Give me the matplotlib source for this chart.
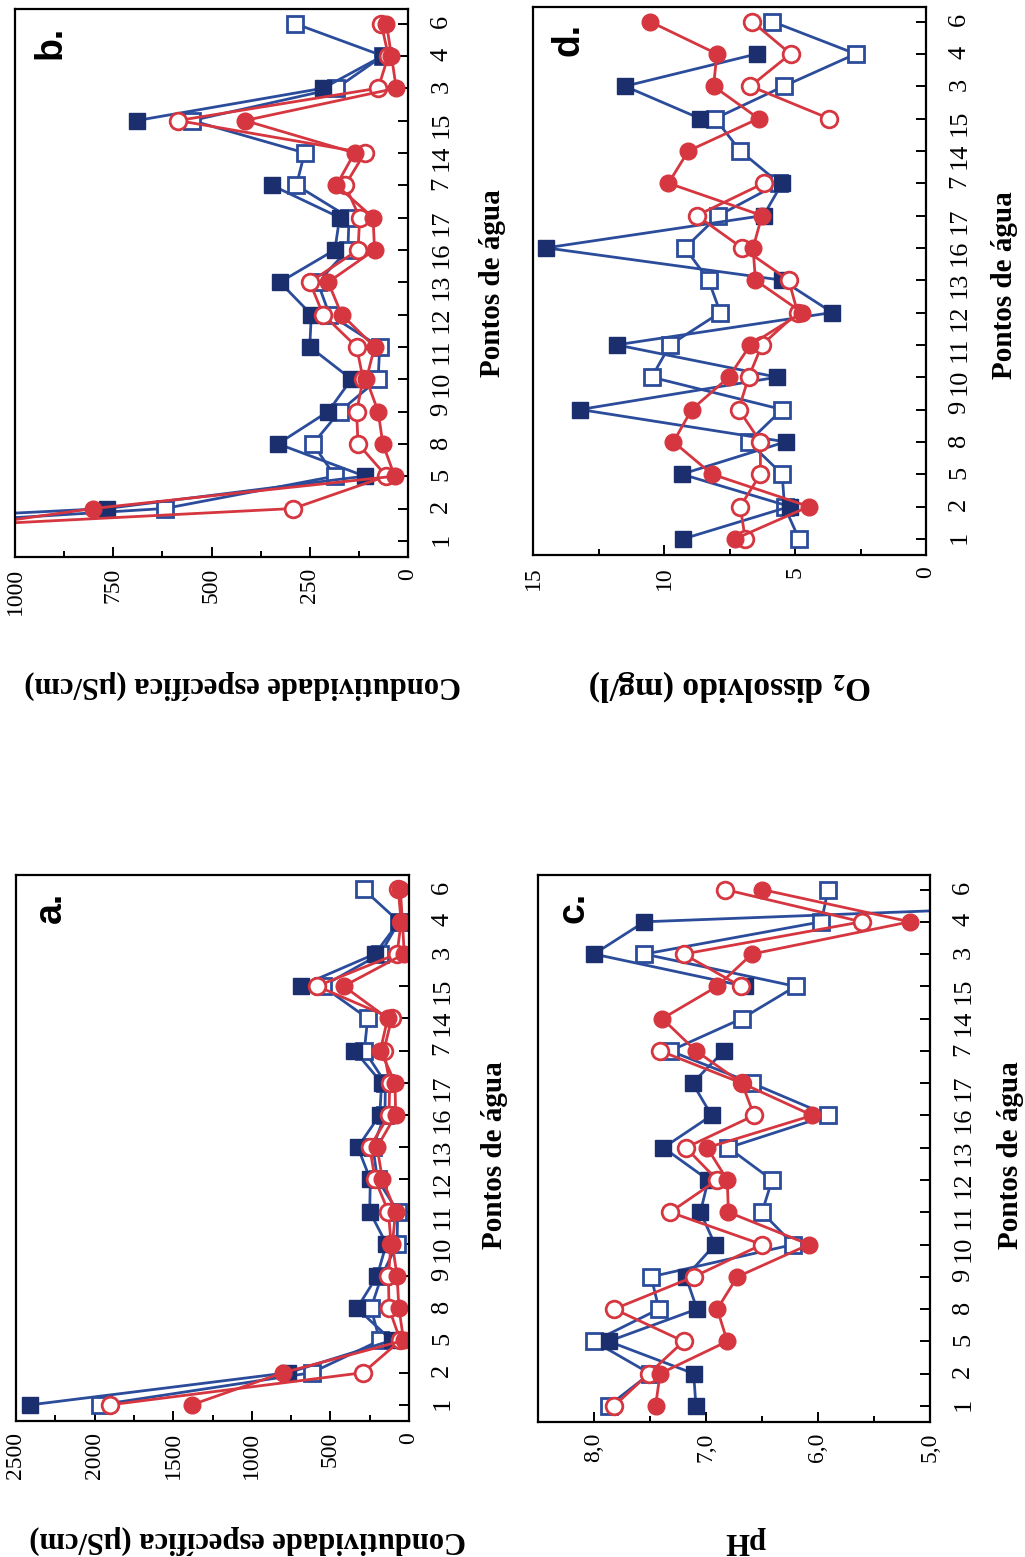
import numpy as np
import matplotlib
matplotlib.use("Agg")
import matplotlib.pyplot as plt

plt.rcParams['font.family'] = ['Liberation Serif', 'DejaVu Serif']
plt.rcParams['mathtext.fontset'] = 'stix'

nan = np.nan

# Sampling points (order along the category axis)
pontos = ['1', '2', '5', '8', '9', '10', '11', '12', '13', '16', '17',
          '7', '14', '15', '3', '4', '6']

# Specific conductivity (uS/cm) - four campaigns
cond_blue_filled = [2410, 767, 110, 331, 203, 144, 250, 246, 326, 186, 174,
                    347, nan, 690, 216, 64, nan]
cond_blue_open = [1968, 619, 186, 242, 174, 76, 72, 200, 230, 153, 150,
                  284, 263, 550, 182, 64, 288]
cond_red_open = [1904, 292, 55, 127, 131, 114, 131, 216, 250, 127, 123,
                 160, 110, 585, 76, 50, 68]
cond_red_filled = [1383, 801, 34, 64, 76, 106, 85, 169, 203, 85, 89,
                   182, 136, 415, 30, 42, 55]

# pH
ph_blue_filled = [7.09, 7.11, 7.87, 7.08, 7.18, 6.92, 7.05, 6.98, 7.38, 6.95,
                  7.12, 6.84, nan, 6.65, 8.00, 7.55, 0.0]
ph_blue_open = [7.87, 7.50, 8.00, 7.42, 7.49, 6.22, 6.50, 6.41, 6.80, 5.91,
                6.59, 7.32, 6.68, 6.20, 7.55, 5.97, 5.91]
ph_red_open = [7.82, 7.51, 7.20, 7.82, 7.11, 6.50, 7.32, 6.90, 7.18, 6.57,
               6.68, 7.41, nan, 6.69, 7.20, 5.61, 6.83]
ph_red_filled = [7.45, 7.41, 6.81, 6.90, 6.72, 6.08, 6.80, 6.81, 6.99, 6.05,
                 6.68, 7.09, 7.39, 6.90, 6.59, 5.18, 6.50]

# Dissolved oxygen (mg/l)
o2_blue_filled = [9.26, 5.20, 9.32, 5.36, 13.2, 5.68, 11.81, 3.58, 5.49, 14.5,
                  6.20, 5.49, nan, 8.62, 11.49, 6.45, nan]
o2_blue_open = [4.85, 5.40, 5.49, 6.77, 5.49, 10.47, 9.77, 7.85, 8.30, 9.20,
                7.92, 5.60, 7.09, 8.05, 5.43, 2.68, 5.87]
o2_red_open = [6.90, 7.09, 6.32, 6.32, 7.15, 6.77, 6.26, 4.90, 5.24, 7.02,
               8.75, 6.19, nan, 3.70, 6.70, 5.17, 6.64]
o2_red_filled = [7.28, 4.47, 8.17, 9.64, 8.94, 7.53, 6.70, 4.73, 6.51, 6.60,
                 6.26, 9.83, 9.07, 6.39, 8.11, 7.98, 10.54]

# Value-axis ticks
cond_a_major = [0, 500, 1000, 1500, 2000, 2500]
cond_a_labels = ['0', '500', '1000', '1500', '2000', '2500']
cond_b_major = [0, 250, 500, 750, 1000]
cond_b_labels = ['0', '250', '500', '750', '1000']
ph_major = [5.0, 6.0, 7.0, 8.0]
ph_labels = ['5,0', '6,0', '7,0', '8,0']
o2_major = [0, 5, 10, 15]
o2_labels = ['0', '5', '10', '15']

NAVY = '#1b2f6e'
BLUE = '#2b4c9b'
RED = '#d5363f'

styles = [
    dict(color=BLUE, marker='s', mfc='white', mec=BLUE, mew=2.0, ms=12, lw=2.0),
    dict(color=BLUE, marker='s', mfc=NAVY, mec=NAVY, ms=12, lw=2.0),
    dict(color=RED, marker='o', mfc='white', mec=RED, mew=2.0, ms=12, lw=2.0),
    dict(color=RED, marker='o', mfc=RED, mec=RED, ms=12, lw=2.0),
]

W, H = 1025, 1557
fig = plt.figure(figsize=(W / 100, H / 100), dpi=100)


def add_panel(left, top, right, bottom):
    return fig.add_axes([left / W, 1 - bottom / H, (right - left) / W,
                         (bottom - top) / H])


def draw_panel(ax, series, vmax, vmin, major, labels, minor_step, letter):
    pos = np.arange(len(pontos))
    # blue open, blue filled, red open, red filled
    for vals, st in zip(series, styles):
        ax.plot(vals, pos, **st)
    ax.set_xlim(vmax, vmin)
    ax.set_ylim(-0.5, 16.45)
    ax.set_xticks(major)
    ax.set_xticklabels(labels)
    ax.set_xticks(np.arange(vmin, vmax + 1e-9, minor_step), minor=True)
    ax.set_yticks(pos)
    ax.set_yticklabels(pontos)
    ax.yaxis.tick_right()
    ax.xaxis.tick_bottom()
    ax.tick_params(axis='y', which='major', direction='in', length=7,
                   width=1.4, labelrotation=90, pad=16, labelsize=19)
    ax.tick_params(axis='x', which='major', direction='in', length=7,
                   width=1.4, labelrotation=90, pad=8, labelsize=17)
    ax.tick_params(axis='x', which='minor', direction='in', length=4,
                   width=1.4)
    for sp in ax.spines.values():
        sp.set_linewidth(1.6)
    ax.text(0.09, 0.94, letter, transform=ax.transAxes, rotation=90,
            ha='center', va='center', fontsize=27, fontweight='bold',
            family=['Liberation Sans', 'DejaVu Sans'])


ax_b = add_panel(15, 9, 408, 557)
ax_d = add_panel(533, 7, 926, 555)
ax_a = add_panel(16, 875, 409, 1421)
ax_c = add_panel(538, 875, 930, 1422)

cond_series = [cond_blue_open, cond_blue_filled, cond_red_open, cond_red_filled]
draw_panel(ax_a, cond_series, 2500, 0, cond_a_major, cond_a_labels, 250, 'a.')
draw_panel(ax_b, cond_series, 1000, 0, cond_b_major, cond_b_labels, 125, 'b.')
draw_panel(ax_c, [ph_blue_open, ph_blue_filled, ph_red_open, ph_red_filled],
           8.5, 5.0, ph_major, ph_labels, 0.5, 'c.')
draw_panel(ax_d, [o2_blue_open, o2_blue_filled, o2_red_open, o2_red_filled],
           15, 0, o2_major, o2_labels, 2.5, 'd.')


def ftext(x, y, s, rot, size=22):
    fig.text(x / W, 1 - y / H, s, rotation=rot, ha='center', va='center',
             fontsize=size, fontweight='bold')


for x, y in [(495, 1155), (492, 283), (1010, 1155), (1005, 285)]:
    ftext(x, y, 'Pontos de água', 90, 21)

ftext(248, 1540, 'Condutividade específica (µS/cm)', 180)
ftext(243, 685, 'Condutividade específica (µS/cm)', 180)
ftext(745, 1540, 'pH', 180)
ftext(730, 685, r'O$_{\mathbf{2}}$ dissolvido (mg/l)', 180, 24)

fig.savefig('out.png', dpi=100)
